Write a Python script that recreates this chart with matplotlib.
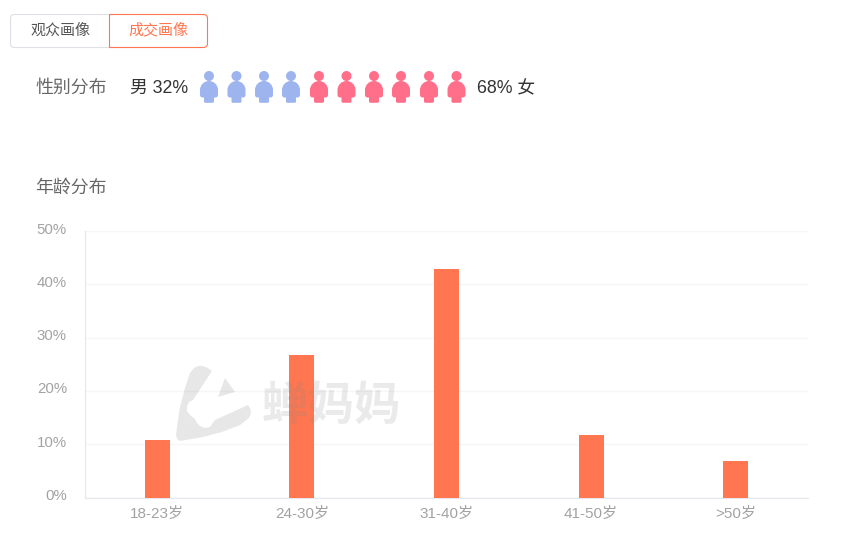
import matplotlib
matplotlib.use("Agg")
import matplotlib.pyplot as plt
from matplotlib.patches import Circle, FancyBboxPatch, Polygon, PathPatch
from matplotlib.path import Path
from matplotlib.transforms import ScaledTranslation

plt.rcParams['font.family'] = ['Liberation Sans', 'Noto Sans CJK SC', 'DejaVu Sans']

categories = ['18-23岁', '24-30岁', '31-40岁', '41-50岁', '>50岁']
values = [10.8, 26.7, 42.9, 11.7, 6.9]
y_ticks = [0, 10, 20, 30, 40, 50]
y_labels = ['0%', '10%', '20%', '30%', '40%', '50%']
tabs = ['观众画像', '成交画像']
male_pct = 32
female_pct = 68
male_icons = 4
female_icons = 6

W, H = 851, 548
fig = plt.figure(figsize=(W / 100, H / 100), dpi=100, facecolor='white')

# pixel overlay
ui = fig.add_axes([0, 0, 1, 1], zorder=1)
ui.set_xlim(0, W); ui.set_ylim(H, 0); ui.axis('off')

# tabs
ui.add_patch(FancyBboxPatch((10.5, 14.5), 120, 33, boxstyle='round,pad=0,rounding_size=4',
                            fc='white', ec='#dfe0e6', lw=0.8))
L, R, T, B, r = 109.5, 207.5, 14.5, 47.5, 4
tab_path = Path([(L, T), (R - r, T), (R, T), (R, T + r), (R, B - r), (R, B), (R - r, B), (L, B), (L, T)],
                [Path.MOVETO, Path.LINETO, Path.CURVE3, Path.CURVE3, Path.LINETO, Path.CURVE3,
                 Path.CURVE3, Path.LINETO, Path.CLOSEPOLY])
ui.add_patch(PathPatch(tab_path, fc='white', ec='#ff7650', lw=0.8))
ui.text(60, 30.5, tabs[0], ha='center', va='center', fontsize=10.8, color='#555555')
ui.text(158.5, 30.5, tabs[1], ha='center', va='center', fontsize=10.8, color='#ff7650')

# gender row
ui.text(35.5, 88, '性别分布', ha='left', va='center', fontsize=12.9, color='#666666')
ui.text(130, 88.5, f'男 {male_pct}%', ha='left', va='center', fontsize=12.8, color='#333333')
ui.text(477, 88.5, f'{female_pct}% 女', ha='left', va='center', fontsize=12.8, color='#333333')
ui.text(35.5, 188, '年龄分布', ha='left', va='center', fontsize=12.9, color='#666666')


def person(cx, color):
    ui.add_patch(Circle((cx, 76), 5, fc=color, ec='none'))
    k = 5.0
    verts = [(cx - 9, 90), (cx - 9, 90 - k), (cx - k, 81), (cx, 81),
             (cx + k, 81), (cx + 9, 90 - k), (cx + 9, 90),
             (cx + 9, 95), (cx + 9, 97.5), (cx + 6.5, 97.5), (cx - 6.5, 97.5),
             (cx - 9, 97.5), (cx - 9, 95), (cx - 9, 90)]
    codes = [Path.MOVETO, Path.CURVE4, Path.CURVE4, Path.CURVE4,
             Path.CURVE4, Path.CURVE4, Path.CURVE4,
             Path.LINETO, Path.CURVE3, Path.CURVE3, Path.LINETO,
             Path.CURVE3, Path.CURVE3, Path.CLOSEPOLY]
    ui.add_patch(PathPatch(Path(verts, codes), fc=color, ec='none'))
    ui.add_patch(FancyBboxPatch((cx - 5, 92), 10, 10.8, boxstyle='round,pad=0,rounding_size=1.5',
                                fc=color, ec='none'))


icon_x = [209, 236.5, 264, 291, 319, 346.5, 374, 401, 429, 456.5]
for i, x in enumerate(icon_x):
    person(x, '#9db4ee' if i < male_icons else '#ff6f8a')

# chart
ax = fig.add_axes([85 / W, 1 - 497.5 / H, (808 - 85) / W, (497.5 - 231) / H], zorder=0)
ax.bar(range(len(categories)), values, width=25 / 144.6, color='#ff7650', zorder=3)
ax.set_xlim(-0.5, len(categories) - 0.5)
ax.set_ylim(0, 50)
ax.set_yticks(y_ticks, y_labels)
ax.set_xticks(range(len(categories)), categories)
ax.tick_params(axis='y', length=0, labelsize=10.8, labelcolor='#a3a3a3', pad=13)
ax.tick_params(axis='x', length=0, labelsize=11.0, labelcolor='#a3a3a3', pad=6.5)
shift = ScaledTranslation(0, 3 / 100, fig.dpi_scale_trans)
for lab in ax.get_yticklabels():
    lab.set_transform(lab.get_transform() + shift)
ax.grid(axis='y', color='#f6f6f8', lw=1, zorder=0)
for s in ['top', 'right']:
    ax.spines[s].set_visible(False)
for s in ['left', 'bottom']:
    ax.spines[s].set_color('#e6e7ec')

# watermark
wm = '#888888'
ui.add_patch(Polygon([(190, 373), (194, 368), (198, 366), (202, 366), (207, 367.5), (212, 371),
                      (193, 400), (189, 402), (187, 406), (187, 411), (190, 415), (195, 419),
                      (197, 423), (200, 426), (205, 428), (210, 427), (215, 420), (248, 405),
                      (250, 408), (251, 413), (249, 418), (240, 425), (222, 432), (203, 437),
                      (180, 441), (177, 439), (176, 435), (178, 420), (180, 407), (185, 388)],
                     closed=True, fc=wm, ec='none', alpha=0.2, zorder=2))
ui.add_patch(Polygon([(225, 378), (235, 392), (218, 397)], closed=True, fc=wm, ec='none',
                     alpha=0.2, zorder=2))
ui.text(331.5, 405.5, '蝉妈妈', ha='center', va='center', fontsize=33.5, color=wm, alpha=0.17,
        family='Noto Sans CJK SC', fontweight='bold', zorder=2)

fig.savefig('out.png', dpi=100)
